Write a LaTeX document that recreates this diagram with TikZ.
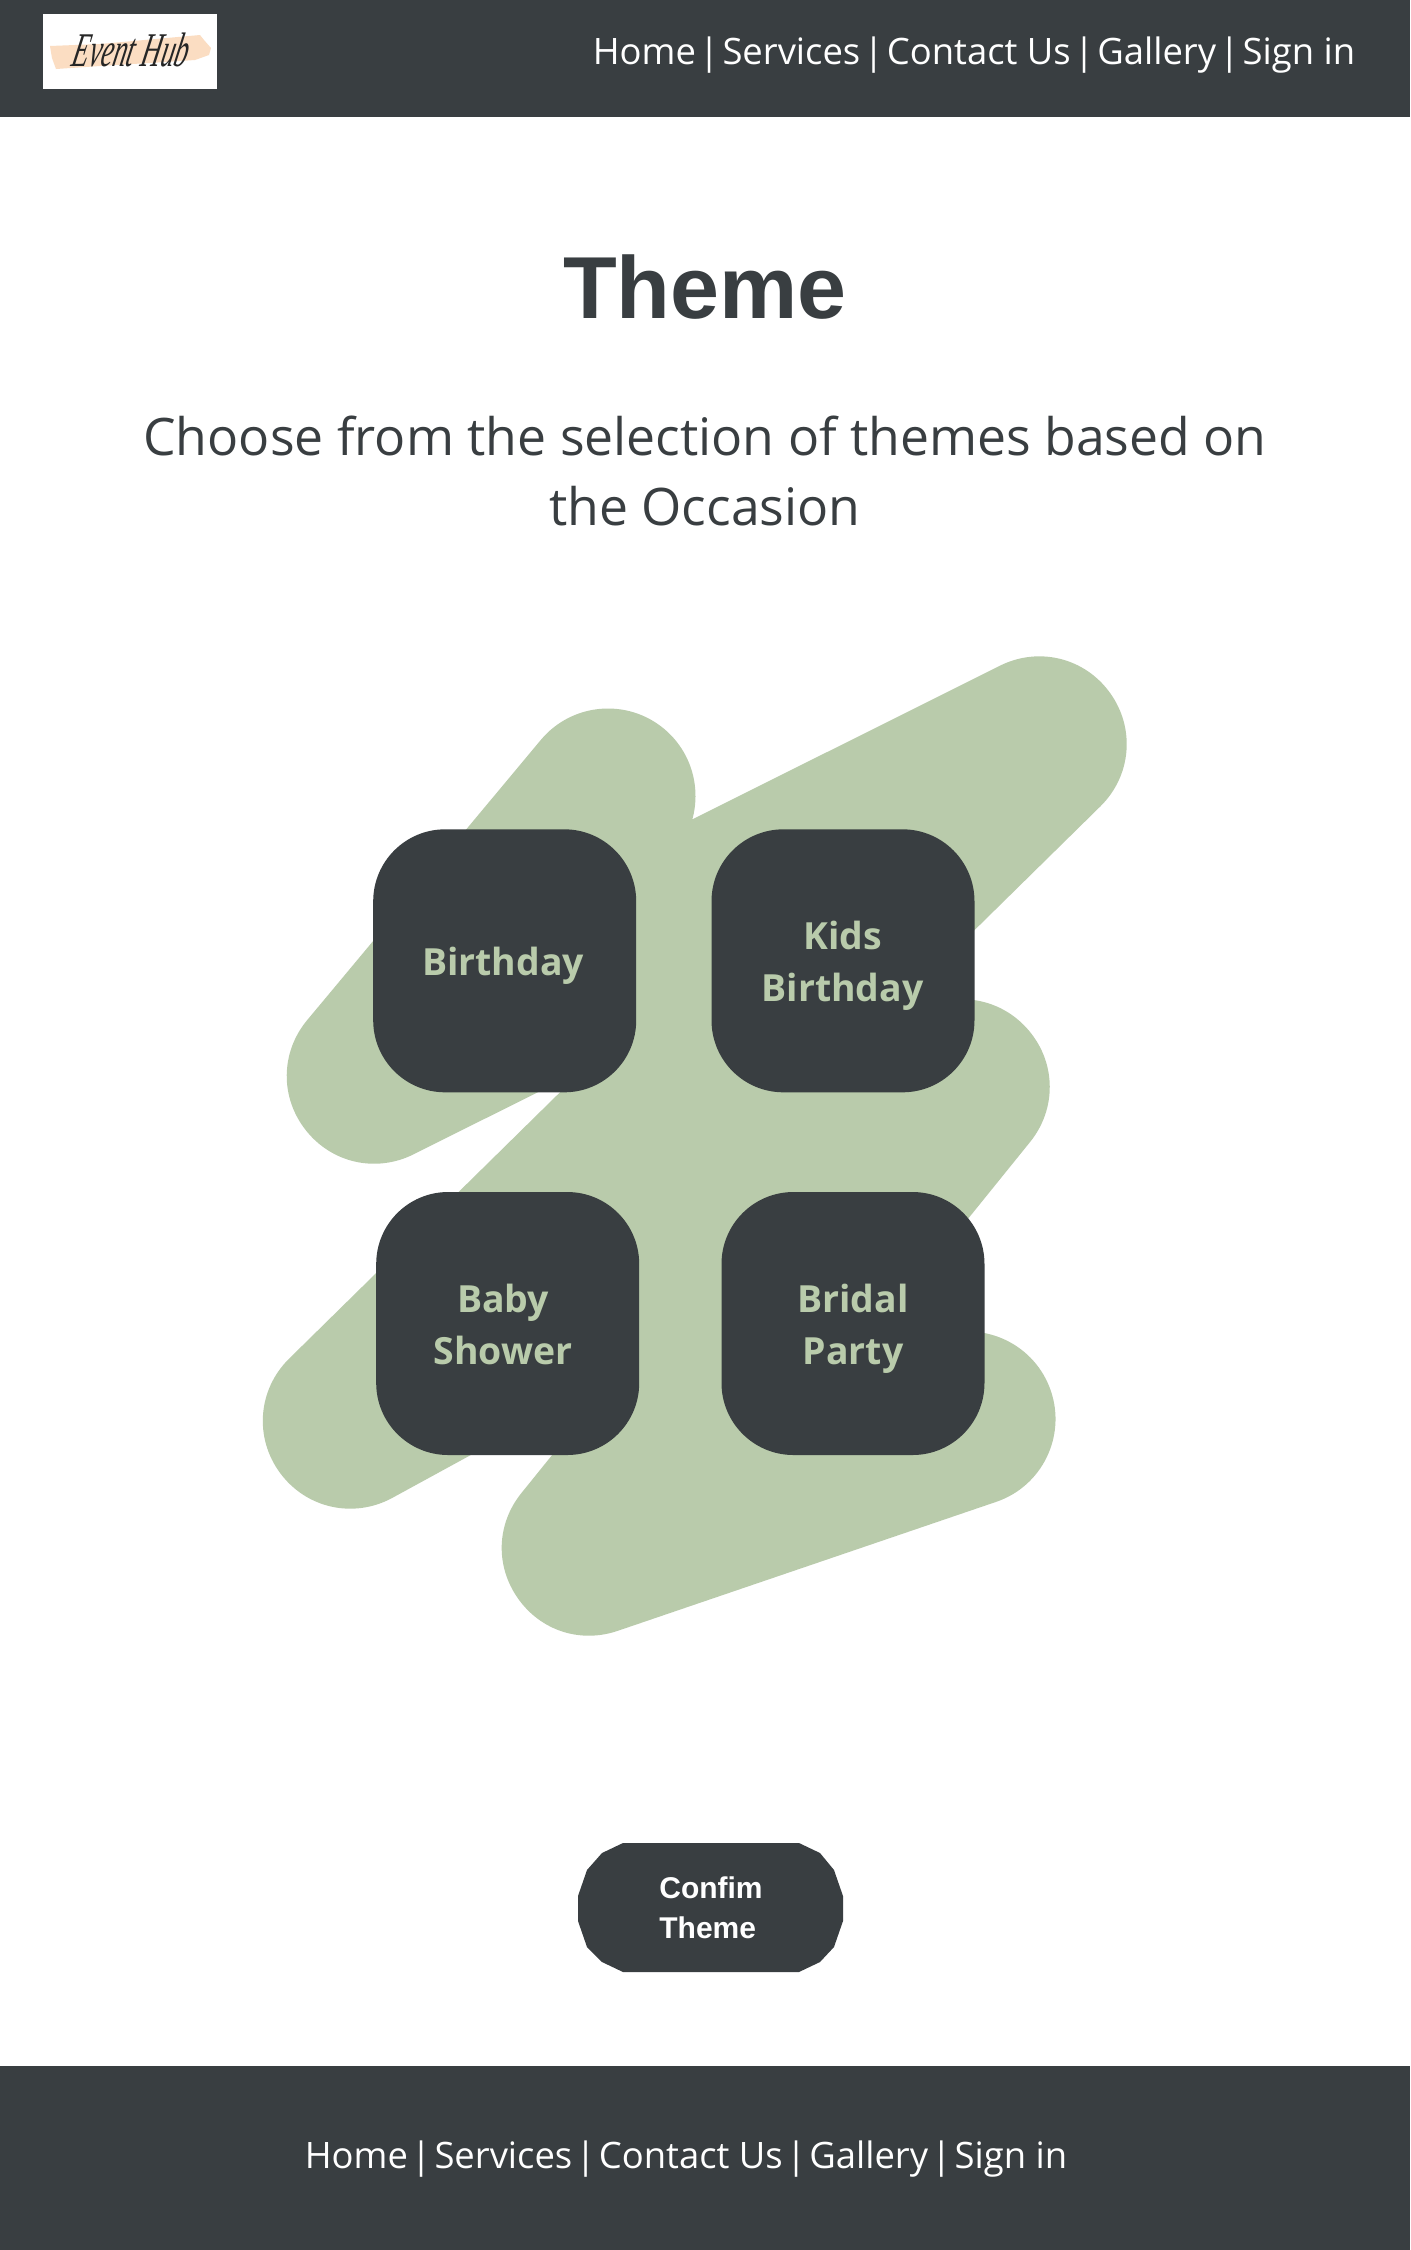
\documentclass[tikz,border=0pt]{standalone}
\usepackage{fontspec}
\setmainfont{Open Sans}
\newfontfamily\headfont{Liberation Sans}
\newfontfamily\logofont{Liberation Serif}
\definecolor{darkbar}{HTML}{393E41}
\definecolor{sage}{HTML}{B9CBAB}
\definecolor{peach}{HTML}{FBDDC2}
\newcommand{\navsep}{\kern-3.1pt\ |\ \kern-3.1pt}
\tikzset{
  card/.style={fill=darkbar,rounded corners=36pt,minimum width=131.5pt,minimum height=131.5pt,inner sep=0pt},
  cardtext/.style={text=sage,font=\fontsize{18.7}{26}\selectfont\bfseries,align=center},
  navtext/.style={text=white,font=\fontsize{18.2}{22}\selectfont,anchor=center},
  bar/.style={fill=darkbar,draw=none}
}
\begin{document}
\begin{tikzpicture}[x=0.5pt,y=-0.5pt]
\useasboundingbox (0,0) rectangle (1410,2250);
\fill[white] (0,0) rectangle (1410,2250);
% header and footer
\path[bar] (0,0) rectangle (1410,117);
\path[bar] (0,2066) rectangle (1410,2250);
% logo
\fill[white] (43,14) rectangle (217,89);
\fill[peach] (50,46) -- (100,44) -- (200,35) -- (204,40) -- (211,48) -- (209,55) -- (195,60) -- (150,63) -- (115,65) -- (56,69) -- (52,58) -- cycle;
\node[text=black!85,xslant=0.22,xscale=0.62,yscale=1.1,font=\logofont\itshape\fontsize{22}{22}\selectfont] (logo) at (132,50) {Event Hub};
\node[navtext] (nav) at (974,55) {Home\navsep Services\navsep Contact Us\navsep Gallery\navsep Sign in};
\node[navtext] (foot) at (686,2159) {Home\navsep Services\navsep Contact Us\navsep Gallery\navsep Sign in};
% headings
\node[text=darkbar,font=\headfont\bfseries\fontsize{44}{44}\selectfont] (title) at (705,287) {Theme};
\node[text=darkbar,font=\fontsize{25.85}{35}\selectfont,align=center] (sub) at (705,471) {Choose from the selection of themes based on\\the Occasion};
% scribble
\coordinate (za) at (608,796);
\coordinate (zb) at (374.5,1076);
\coordinate (zc) at (1039,744);
\coordinate (zd) at (350.5,1421);
\coordinate (ze) at (962,1087);
\coordinate (zf) at (589.5,1548);
\coordinate (zg) at (968,1419);
\draw[sage,line width=87.5pt,line cap=round,line join=round] (za) -- (zb) -- (zc) -- (zd) -- (ze) -- (zf) -- (zg);
% cards
\node[card] (birthday) at (504.7,960.8) {};
\node[card] (kids) at (843,960.8) {};
\node[card] (baby) at (507.7,1323.5) {};
\node[card] (bridal) at (853,1323.5) {};
\node[cardtext] (t1) at (503,966) {Birthday};
\node[cardtext] (t2) at (842.5,966) {Kids\\Birthday};
\node[cardtext] (t3) at (503,1324) {Baby\\Shower};
\node[cardtext] (t4) at (853,1329) {Bridal\\Party};
% button
\fill[darkbar] (623,1843) -- (799,1843) -- (820,1853) -- (834,1870) -- (843,1896) -- (843,1921) -- (834,1947) -- (820,1962) -- (799,1972) -- (623,1972) -- (602,1962) -- (587,1947) -- (578,1921) -- (578,1896) -- (587,1870) -- (602,1853) -- cycle;
\node[text=white,font=\headfont\bfseries\fontsize{15}{20}\selectfont,align=left] (confirm) at (711,1908) {Confim\\Theme};
\end{tikzpicture}
\end{document}
